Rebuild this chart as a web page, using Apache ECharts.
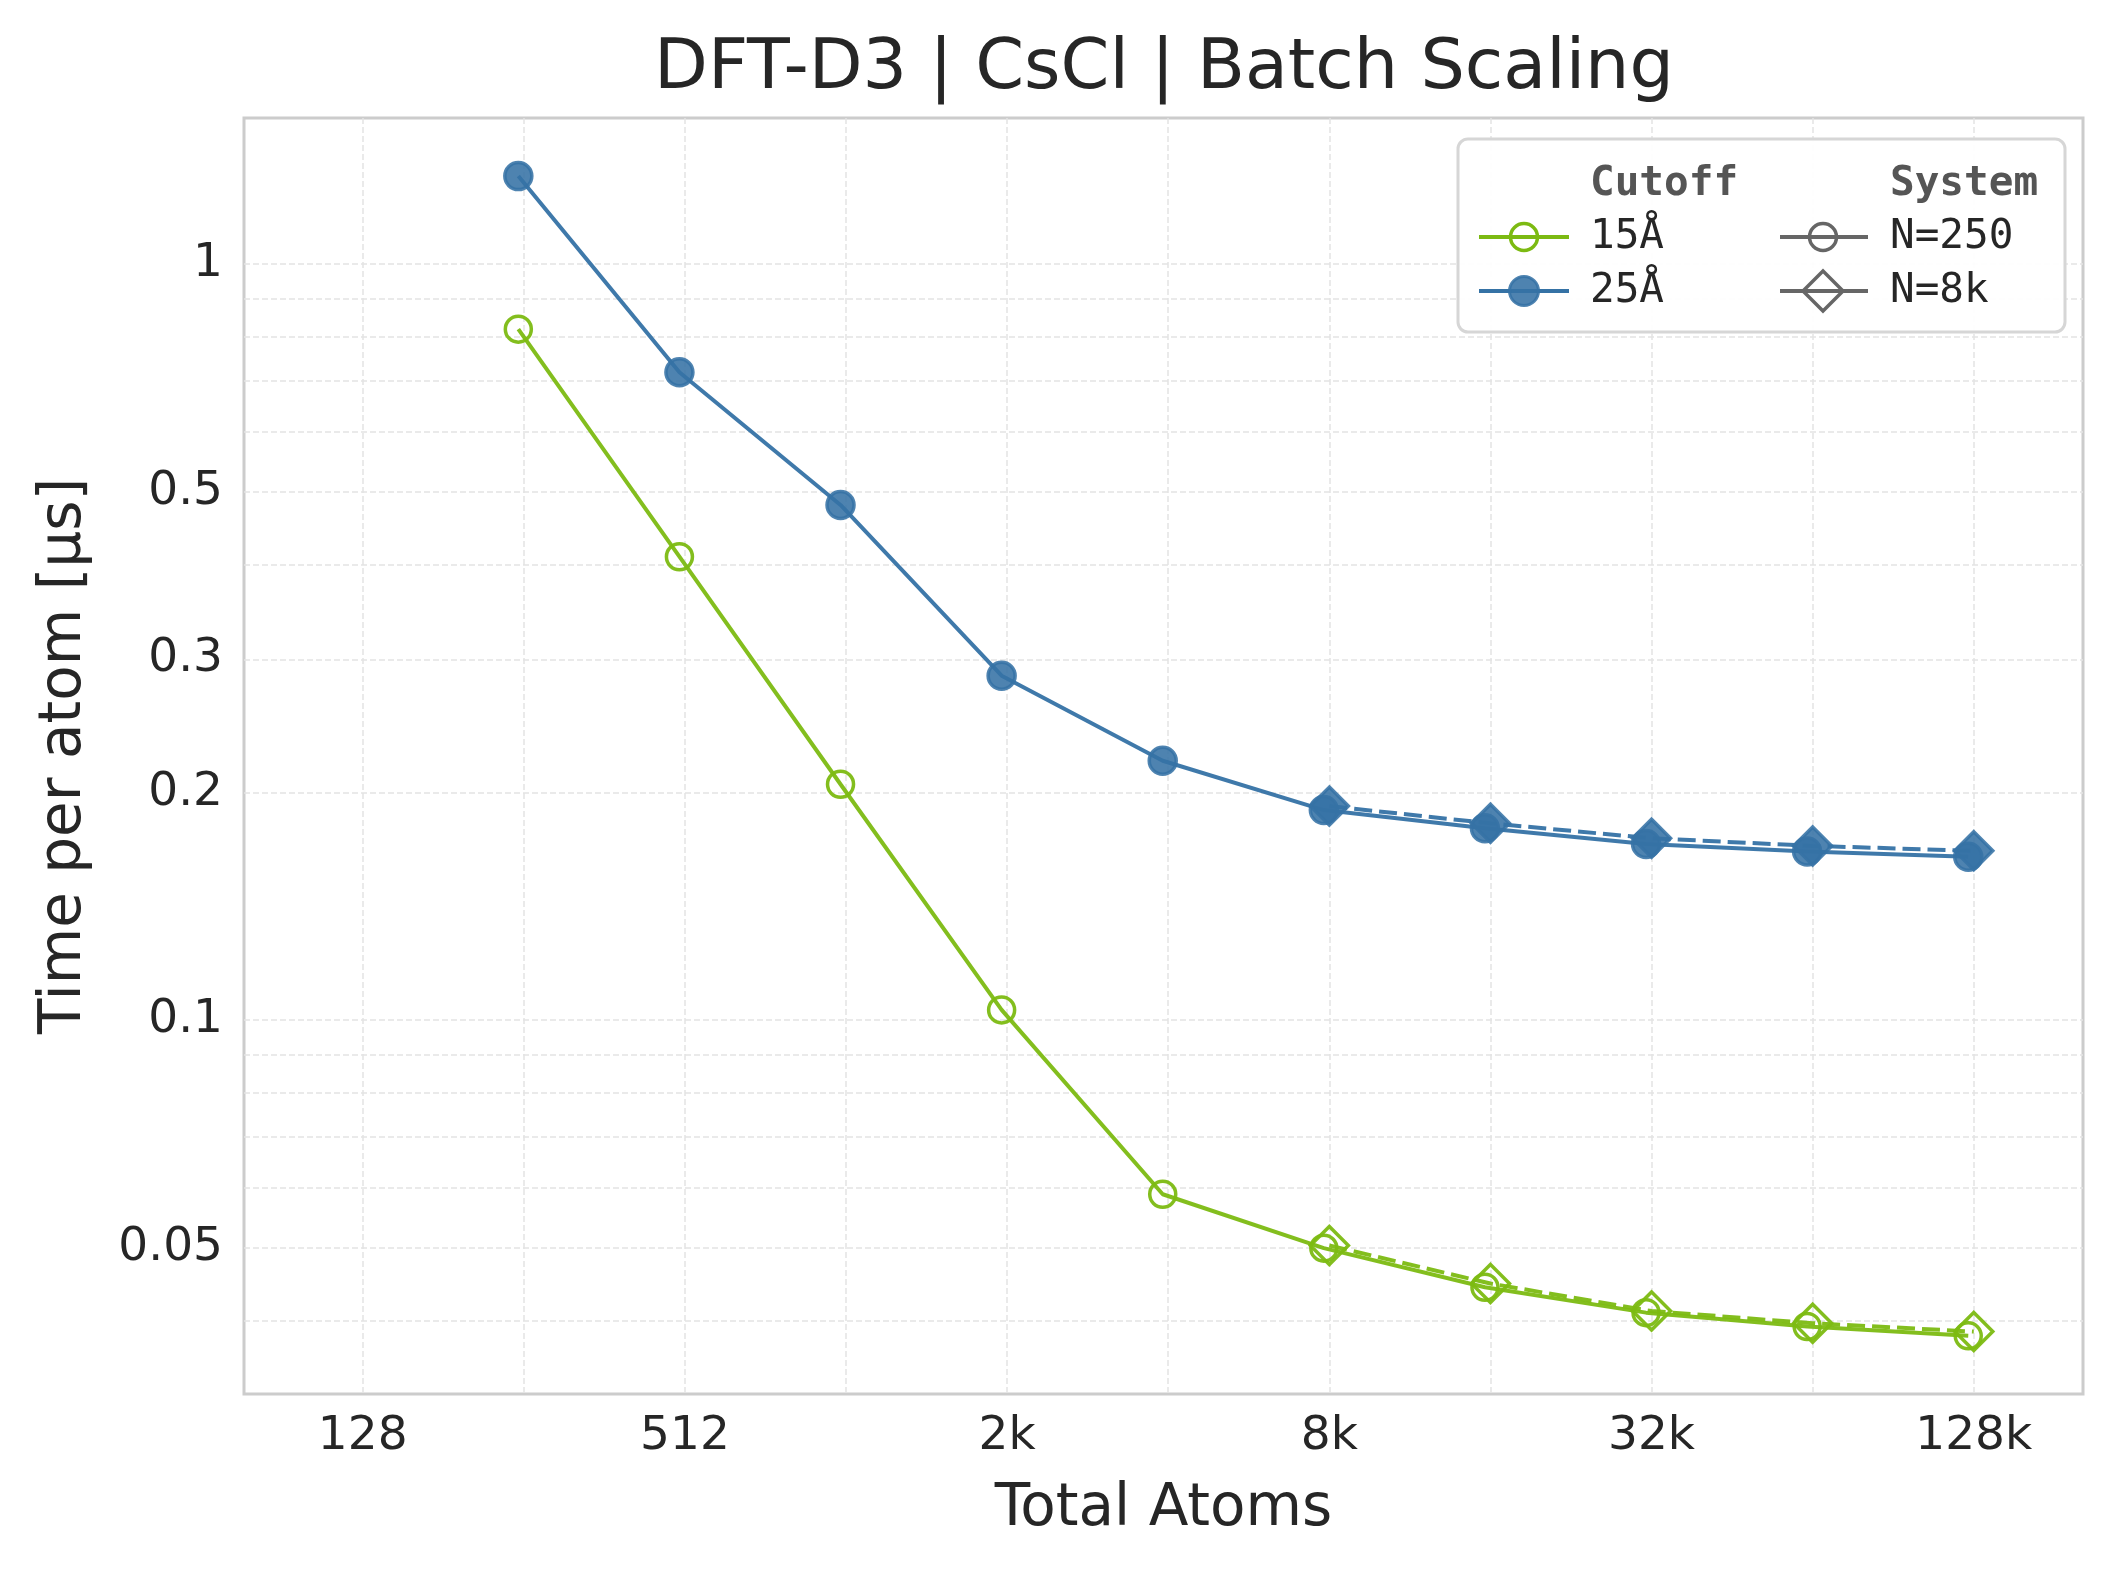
<!DOCTYPE html>
<html>
<head>
<meta charset="utf-8">
<script src="https://cdn.jsdelivr.net/npm/echarts@6/dist/echarts.min.js"></script>
<style>
  html, body {margin:0; padding:0; overflow:hidden; background:#ffffff;}
  #main {width:2119px; height:1574px;}
</style>
</head>
<body>
<div id="main"></div>
<script>
// total atoms (x) for the two systems
const atomsN250 = [250, 500, 1000, 2000, 4000, 8000, 16000, 32000, 64000, 128000];
const atomsN8k = [8192, 16384, 32768, 65536, 131072];

// time per atom [µs]
const cut15N250 = [0.820, 0.410, 0.205, 0.1031, 0.0588, 0.0499, 0.0443, 0.0410, 0.0393, 0.0382];
const cut25N250 = [1.307, 0.719, 0.480, 0.2853, 0.2202, 0.1895, 0.1793, 0.1709, 0.1670, 0.1644];
const cut15N8k = [0.0503, 0.0448, 0.0412, 0.0397, 0.0387];
const cut25N8k = [0.1918, 0.1820, 0.1739, 0.1699, 0.1674];

// ticks / grid
const xTickValues = [128, 512, 2048, 8192, 32768, 131072];
const xGridValues = [128, 256, 512, 1024, 2048, 4096, 8192, 16384, 32768, 65536, 131072];
const yTickValues = [0.05, 0.1, 0.2, 0.3, 0.5, 1];
const yGridValues = [0.04, 0.05, 0.06, 0.07, 0.08, 0.09, 0.1, 0.2, 0.3, 0.4, 0.5, 0.6, 0.7, 0.8, 0.9, 1];

const green = '#7cba12';
const blue = '#3572a5';
const gray = '#666666';
const ink = '#262626';

function pairs(xs, ys) {
    return xs.map(function (x, i) { return [x, ys[i]]; });
}

let myChart = echarts.init(document.getElementById('main'));

function lineSeries(name, data, color, symbol, size, filled, dashed, z) {
    return {
        name: name,
        type: 'line',
        data: data,
        z: z,
        symbol: symbol,
        symbolSize: size,
        showAllSymbol: true,
        lineStyle: {color: color, width: 4, type: dashed ? [18, 7] : 'solid', opacity: 0.95},
        itemStyle: {
            color: filled ? color : 'rgba(0,0,0,0)',
            borderColor: color,
            borderWidth: 3.5,
            opacity: filled ? 0.88 : 0.95
        },
        emphasis: {disabled: true}
    };
}

// legend drawn by hand (two columns with headers)
const lgX1 = 1590, lgX2 = 1890;
const rowHead = 184, row1 = 237, row2 = 291;
function lgText(x, y, text, head) {
    return {
        type: 'text', z: 101, x: x, y: y,
        style: {
            text: text, fill: head ? '#555555' : ink,
            font: (head ? 'bold ' : '') + '41px "DejaVu Sans Mono"',
            verticalAlign: 'middle', align: 'left'
        }
    };
}
function lgLine(x1, x2, y, color) {
    return {type: 'line', z: 101, shape: {x1: x1, y1: y, x2: x2, y2: y},
            style: {stroke: color, lineWidth: 4}};
}
const legendGraphics = [
    {type: 'rect', z: 100, shape: {x: 1458, y: 139, width: 607, height: 193, r: 10},
     style: {fill: 'rgba(255,255,255,0.92)', stroke: '#d6d6d6', lineWidth: 3}},
    lgText(lgX1, rowHead, 'Cutoff', true),
    lgText(lgX2, rowHead, 'System', true),
    lgLine(1479, 1569, row1, green),
    {type: 'circle', z: 102, shape: {cx: 1524, cy: row1, r: 13.5},
     style: {fill: 'none', stroke: green, lineWidth: 3.5}},
    lgText(lgX1, row1, '15Å', false),
    lgLine(1479, 1569, row2, blue),
    {type: 'circle', z: 102, shape: {cx: 1524, cy: row2, r: 14.5},
     style: {fill: blue, stroke: blue, lineWidth: 3, opacity: 0.88}},
    lgText(lgX1, row2, '25Å', false),
    lgLine(1780, 1868, row1, gray),
    {type: 'circle', z: 102, shape: {cx: 1823, cy: row1, r: 13.5},
     style: {fill: 'none', stroke: gray, lineWidth: 3.5}},
    lgText(lgX2, row1, 'N=250', false),
    lgLine(1780, 1868, row2, gray),
    {type: 'polygon', z: 102,
     shape: {points: [[1823, row2 - 20], [1843, row2], [1823, row2 + 20], [1803, row2]]},
     style: {fill: 'none', stroke: gray, lineWidth: 3.5}},
    lgText(lgX2, row2, 'N=8k', false)
];

let option = {
    animation: false,
    backgroundColor: '#ffffff',
    textStyle: {fontFamily: 'DejaVu Sans'},
    title: {
        text: 'DFT-D3 | CsCl | Batch Scaling',
        left: 1164,
        top: 35,
        padding: 0,
        textAlign: 'center',
        textStyle: {fontSize: 70, fontWeight: 'normal', color: ink, fontFamily: 'DejaVu Sans'}
    },
    grid: {
        left: 244, right: 36, top: 118, bottom: 180,
        show: true, borderColor: '#cccccc', borderWidth: 3, backgroundColor: 'rgba(0,0,0,0)'
    },
    xAxis: {
        type: 'log',
        logBase: 2,
        min: 76.8,
        max: 209715,
        axisLine: {show: false},
        axisTick: {show: false, customValues: xGridValues},
        axisLabel: {
            customValues: xTickValues,
            fontSize: 47, color: ink, margin: 19, fontFamily: 'DejaVu Sans',
            formatter: function (v) {
                v = Math.round(v);
                return v >= 1024 ? Math.round(v / 1024) + 'k' : String(v);
            }
        },
        splitLine: {show: true, lineStyle: {color: '#e3e3e3', width: 1.5, type: [6, 3]}},
        name: 'Total Atoms',
        nameLocation: 'middle',
        nameGap: 87,
        nameTextStyle: {fontSize: 58, color: ink, fontFamily: 'DejaVu Sans'}
    },
    yAxis: {
        type: 'log',
        logBase: 10,
        min: 0.0320,
        max: 1.56,
        axisLine: {show: false},
        axisTick: {show: false, customValues: yGridValues},
        axisLabel: {
            customValues: yTickValues,
            fontSize: 47, color: ink, margin: 21, fontFamily: 'DejaVu Sans',
            formatter: function (v) { return String(+v.toPrecision(3)); }
        },
        splitLine: {show: true, lineStyle: {color: '#e3e3e3', width: 1.5, type: [6, 3]}},
        name: 'Time per atom [µs]',
        nameLocation: 'middle',
        nameGap: 150,
        nameTextStyle: {fontSize: 58, color: ink, fontFamily: 'DejaVu Sans'}
    },
    series: [
        lineSeries('15Å N=250', pairs(atomsN250, cut15N250), green, 'circle', 26, false, false, 2),
        lineSeries('15Å N=8k', pairs(atomsN8k, cut15N8k), green, 'diamond', 38, false, true, 3),
        lineSeries('25Å N=250', pairs(atomsN250, cut25N250), blue, 'circle', 27, true, false, 4),
        lineSeries('25Å N=8k', pairs(atomsN8k, cut25N8k), blue, 'diamond', 38, true, true, 5)
    ],
    graphic: legendGraphics
};

myChart.setOption(option);
window.onresize = myChart.resize;
</script>
</body>
</html>
